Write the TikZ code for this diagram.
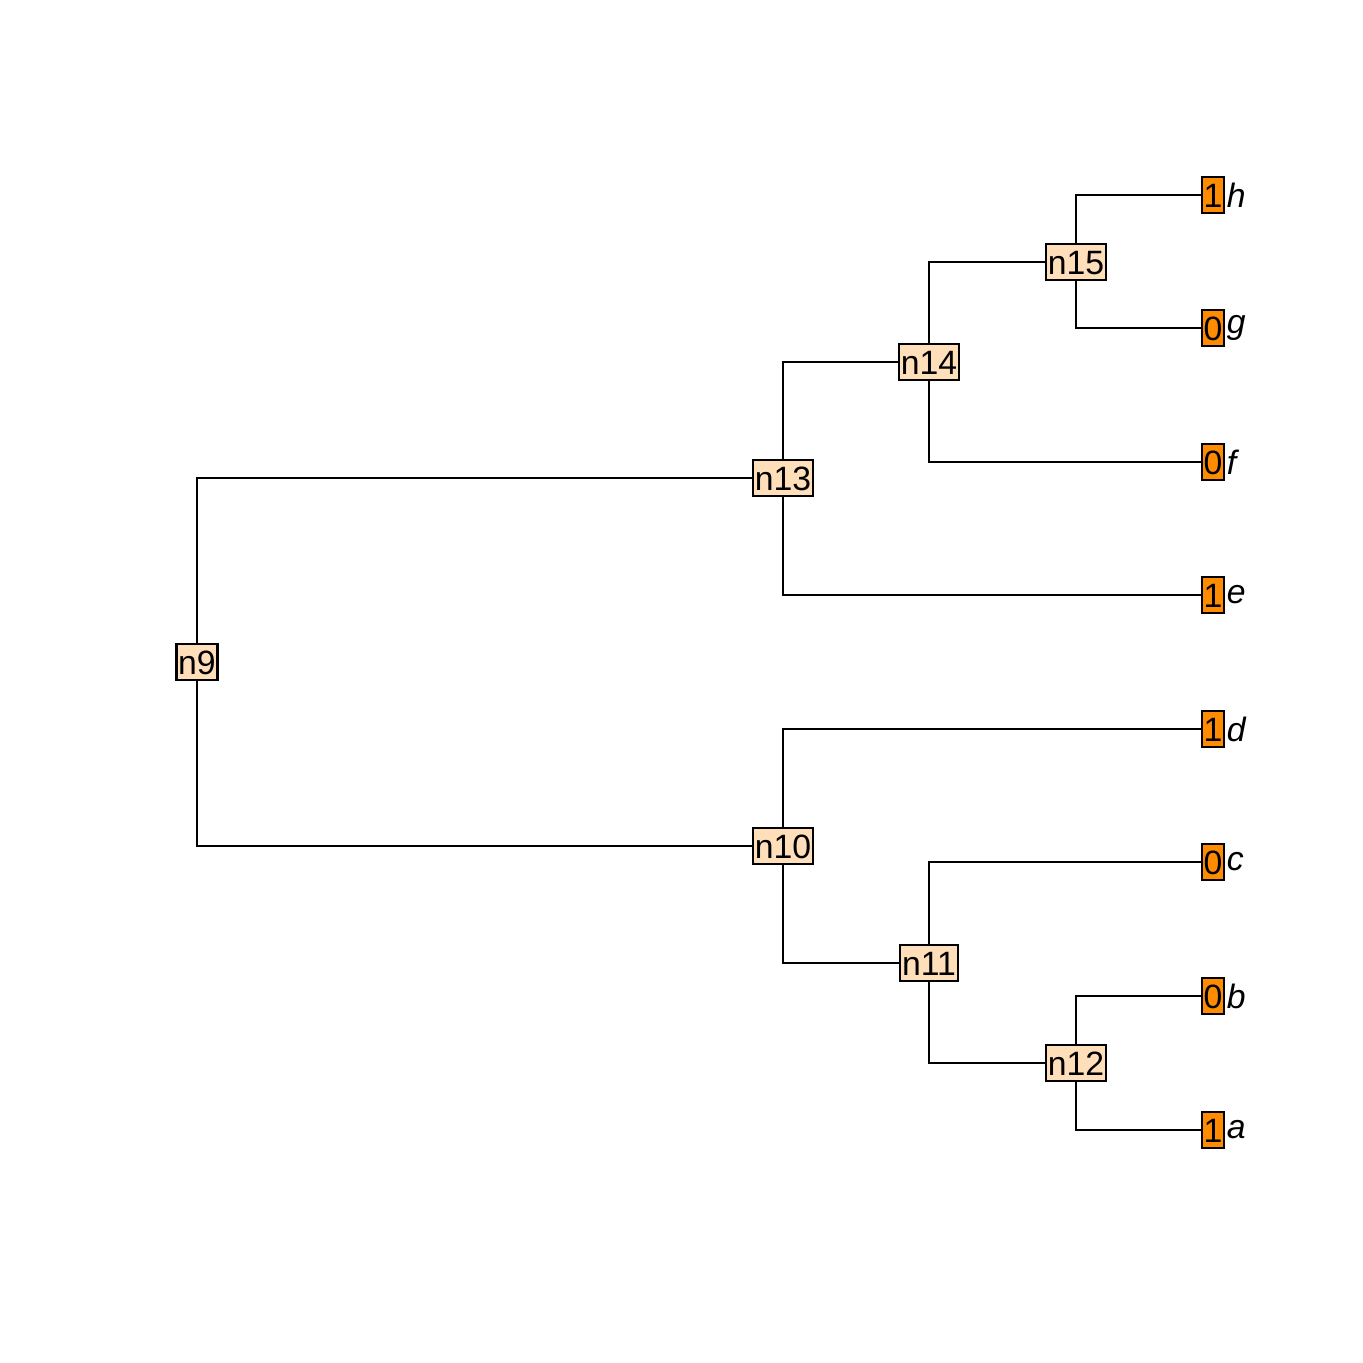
\documentclass[tikz,border=0pt]{standalone}
\usepackage{fontspec}
\setmainfont{Liberation Sans}
\usepackage{tikz}
\definecolor{innerfill}{RGB}{255,222,186}
\definecolor{tipfill}{RGB}{255,140,0}
\tikzset{
  box/.style={draw, line width=0.6pt, inner xsep=0.5pt, inner ysep=0pt, text height=0.86em, text depth=0.15em},
  inner/.style={box, fill=innerfill},
  tip/.style={box, fill=tipfill},
  tiplabel/.style={anchor=west, inner sep=0pt, xshift=0.01cm, font=\fontsize{9.6}{12}\selectfont\itshape},
  branch/.style={line width=0.5pt}
}
\newcommand{\tipnode}[4]{\node[tip] (#1) at (12.13,#2) {#3}; \node[tiplabel] (l#1) at (#1.east) {#4};}

\begin{document}
\begin{tikzpicture}[font=\fontsize{9.6}{12}\selectfont]
    \useasboundingbox (0,0) rectangle (13.63,13.63);
    % internal nodes
    \node[inner] (n9) at (1.97,7.01) {n9};
    \node[inner] (n13) at (7.83,8.85) {n13};
    \node[inner] (n10) at (7.83,5.17) {n10};
    \node[inner] (n14) at (9.29,10.01) {n14};
    \node[inner] (n15) at (10.76,11.01) {n15};
    \node[inner] (n11) at (9.29,4.00) {n11};
    \node[inner] (n12) at (10.76,3.00) {n12};
    % tips
    \tipnode{h}{11.68}{1}{h}
    \tipnode{g}{10.35}{0}{g}
    \tipnode{f}{9.01}{0}{f}
    \tipnode{e}{7.68}{1}{e}
    \tipnode{d}{6.34}{1}{d}
    \tipnode{c}{5.01}{0}{c}
    \tipnode{b}{3.67}{0}{b}
    \tipnode{a}{2.33}{1}{a}
    % branches
    \draw[branch] (n9) |- (n13);
    \draw[branch] (n9) |- (n10);
    \draw[branch] (n13) |- (n14);
    \draw[branch] (n13) |- (e);
    \draw[branch] (n14) |- (n15);
    \draw[branch] (n14) |- (f);
    \draw[branch] (n15) |- (h);
    \draw[branch] (n15) |- (g);
    \draw[branch] (n10) |- (d);
    \draw[branch] (n10) |- (n11);
    \draw[branch] (n11) |- (c);
    \draw[branch] (n11) |- (n12);
    \draw[branch] (n12) |- (b);
    \draw[branch] (n12) |- (a);
\end{tikzpicture}
\end{document}
